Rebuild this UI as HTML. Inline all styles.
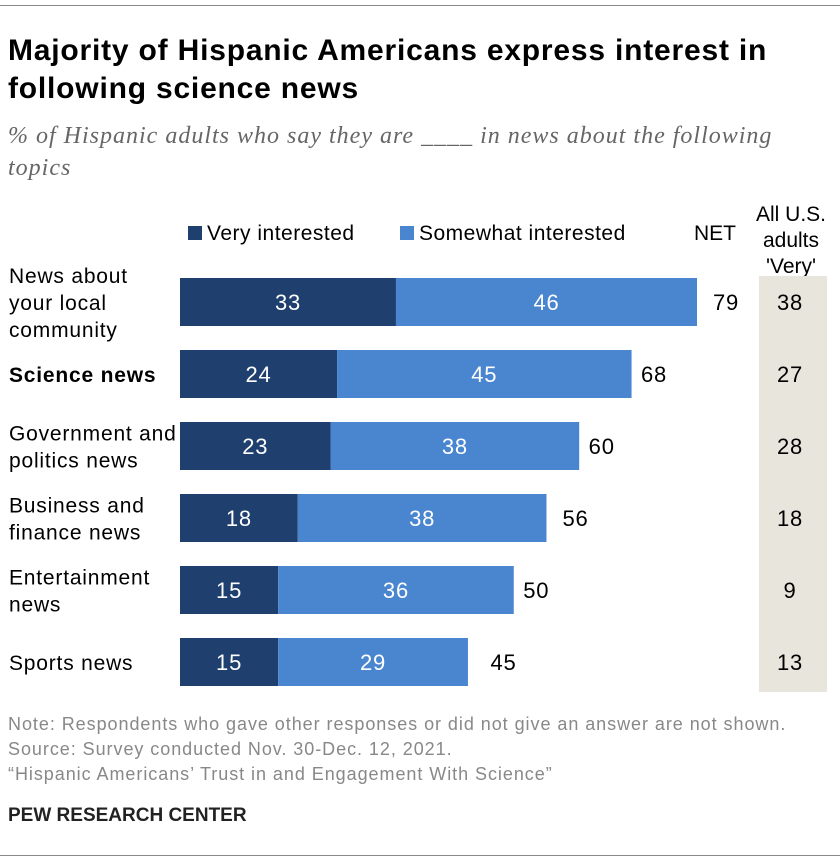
<!DOCTYPE html>
<html><head><meta charset="utf-8"><style>
body{margin:0;background:#fff;width:840px;height:864px;position:relative;font-family:"Liberation Sans",sans-serif;overflow:hidden}
.a{position:absolute}
</style></head><body>
<div class="a" style="left:0;top:5px;width:840px;height:1px;background:#888"></div>
<div class="a" style="left:8px;top:32px;width:830px;font-size:30px;letter-spacing:0.8px;font-weight:bold;line-height:38px;color:#000">Majority of Hispanic Americans express interest in following science news</div>
<div class="a" style="left:8px;top:120px;width:790px;font-family:'Liberation Serif',serif;font-style:italic;font-size:24px;letter-spacing:1px;line-height:32px;color:#666">% of Hispanic adults who say they are ____ in news about the following topics</div>
<div class="a" style="left:188px;top:222px;font-size:21px;letter-spacing:0.5px"><span style="display:inline-block;width:14px;height:14px;background:#1f3f6f;margin-right:5px"></span>Very interested</div>
<div class="a" style="left:400px;top:222px;font-size:21px;letter-spacing:0.5px"><span style="display:inline-block;width:14px;height:14px;background:#4a85cf;margin-right:5px"></span>Somewhat interested</div>
<div class="a" style="left:694px;top:222px;font-size:21px">NET</div>
<div class="a" style="left:743px;top:202px;width:96px;text-align:center;font-size:21px;line-height:26px">All U.S. adults 'Very'</div>
<div class="a" style="left:759px;top:276px;width:68px;height:416px;background:#e8e5dd"></div>
<svg class="a" id="chart" style="left:0;top:0" width="840" height="864"></svg>
<div class="a" style="left:8px;top:712px;font-size:18px;letter-spacing:0.95px;line-height:25px;color:#888;white-space:nowrap">Note: Respondents who gave other responses or did not give an answer are not shown.<br>Source: Survey conducted Nov. 30-Dec. 12, 2021.<br>“Hispanic Americans’ Trust in and Engagement With Science”</div>
<div class="a" style="left:8px;top:805px;font-size:19px;font-weight:bold;color:#222">PEW RESEARCH CENTER</div>
<div class="a" style="left:0;top:855px;width:840px;height:1px;background:#888"></div>
<script>
const categories=[["News about","your local","community"],["Science news"],["Government and","politics news"],["Business and","finance news"],["Entertainment","news"],["Sports news"]];
const very=[33,24,23,18,15,15];
const somewhat=[46,45,38,38,36,29];
const net=[79,68,60,56,50,45];
const usVery=[38,27,28,18,9,13];
const svg=document.getElementById('chart');
const NS='http://www.w3.org/2000/svg';
const x0=180,k=517/79;
const xs=v=>v*k;
const rowY=i=>278+i*72;
function mk(tag,attrs,text){const e=document.createElementNS(NS,tag);for(const a in attrs)e.setAttribute(a,attrs[a]);if(text!==undefined)e.textContent=text;svg.appendChild(e);return e;}
categories.forEach((c,i)=>{
 const y=rowY(i),cy=y+24;
 const lab=mk('text',{x:9,'font-size':21,'letter-spacing':0.8,fill:'#000','font-weight':i===1?'bold':'normal'});
 
 
 const n=c.length;
 c.forEach((l,j)=>{const t=document.createElementNS(NS,'tspan');t.setAttribute('x',9);t.setAttribute('y',cy+8+(j-(n-1)/2)*27);t.textContent=l;lab.appendChild(t);});
 const w1=xs(very[i]),w2=xs(somewhat[i]);
 const b1=mk('rect',{x:x0,y:y,width:w1,height:48,fill:'#1f3f6f'});
 
 
 const b2=mk('rect',{x:x0+w1,y:y,width:w2,height:48,fill:'#4a85cf'});
 
 
 const t1=mk('text',{x:x0+w1/2,y:cy+8,'text-anchor':'middle','font-size':22,'letter-spacing':0.8,fill:'#fff'},very[i]);
 
 
 const t2=mk('text',{x:x0+w1+w2/2,y:cy+8,'text-anchor':'middle','font-size':22,'letter-spacing':0.8,fill:'#fff'},somewhat[i]);
 
 
 const t3=mk('text',{x:x0+xs(net[i])+16,y:cy+8,'font-size':22,'letter-spacing':0.8,fill:'#000'},net[i]);
 
 
 const t4=mk('text',{x:790,y:cy+8,'text-anchor':'middle','font-size':22,'letter-spacing':0.8,fill:'#000'},usVery[i]);
 
 
});
</script>
</body></html>
